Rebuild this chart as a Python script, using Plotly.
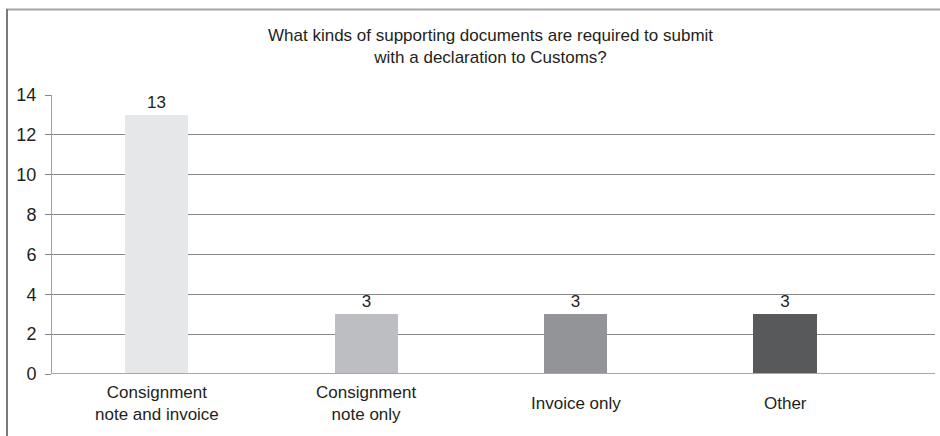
import plotly.graph_objects as go

categories = ["Consignment<br>note and invoice", "Consignment<br>note only", "Invoice only", "Other"]
values = [13, 3, 3, 3]
bar_colors = ["#e6e7e9", "#bdbec2", "#939497", "#58595b"]
title_text = "What kinds of supporting documents are required to submit<br>with a declaration to Customs?"
y_ticks = [0, 2, 4, 6, 8, 10, 12, 14]

W, H = 940, 436
L, R, T, B = 52, 5, 95, 62
pw = W - L - R
ph = H - T - B

def px_x(x):
    return (x - L) / pw

def px_y(y):
    return (H - B - y) / ph

FONT = "Liberation Sans, Arial"
TXT = "#231f20"

fig = go.Figure()
fig.add_trace(go.Bar(
    x=list(range(len(categories))),
    y=values,
    marker=dict(color=bar_colors, line=dict(width=0)),
    width=0.303,
    text=[str(v) for v in values],
    textposition="outside",
    textfont=dict(family=FONT, size=17, color=TXT),
    cliponaxis=False,
    hoverinfo="skip",
))

annotations = [dict(
    text=title_text,
    x=px_x(490), y=px_y(46),
    xref="paper", yref="paper",
    xanchor="center", yanchor="middle",
    showarrow=False,
    font=dict(size=17, color=TXT),
    align="center",
)]
for i, cat in enumerate(categories):
    annotations.append(dict(
        text=cat, x=i, xref="x",
        y=px_y(403), yref="paper",
        xanchor="center", yanchor="middle",
        showarrow=False, align="center",
        font=dict(size=17, color=TXT),
    ))

fig.update_layout(
    width=W, height=H,
    margin=dict(l=L, r=R, t=T, b=B, pad=0),
    paper_bgcolor="white",
    plot_bgcolor="white",
    showlegend=False,
    bargap=0,
    font=dict(family=FONT, size=17, color=TXT),
    xaxis=dict(
        range=[-0.5, 3.715],
        showticklabels=False,
        showgrid=False,
        zeroline=False,
        showline=False,
        ticks="",
        fixedrange=True,
    ),
    yaxis=dict(
        range=[0, 14],
        tickmode="array",
        tickvals=y_ticks,
        showgrid=True,
        gridcolor="#878787",
        gridwidth=1,
        zeroline=False,
        showline=True,
        linecolor="#a0a0a0",
        linewidth=1,
        ticks="outside",
        ticklen=6,
        tickcolor="#878787",
        tickfont=dict(size=18),
        ticklabelstandoff=5,
        fixedrange=True,
    ),
    annotations=annotations,
    shapes=[
        dict(type="line", xref="paper", yref="y", x0=0, x1=1, y0=0, y1=0,
             line=dict(color="#a8a8a8", width=2), layer="above"),
        dict(type="line", xref="paper", yref="paper",
             x0=px_x(6), x1=px_x(940), y0=px_y(9.5), y1=px_y(9.5),
             line=dict(color="#a6a6a6", width=2)),
        dict(type="line", xref="paper", yref="paper",
             x0=px_x(7), x1=px_x(7), y0=px_y(9), y1=px_y(436),
             line=dict(color="#7a7a7a", width=2)),
    ],
)

fig.write_html("out.html")
